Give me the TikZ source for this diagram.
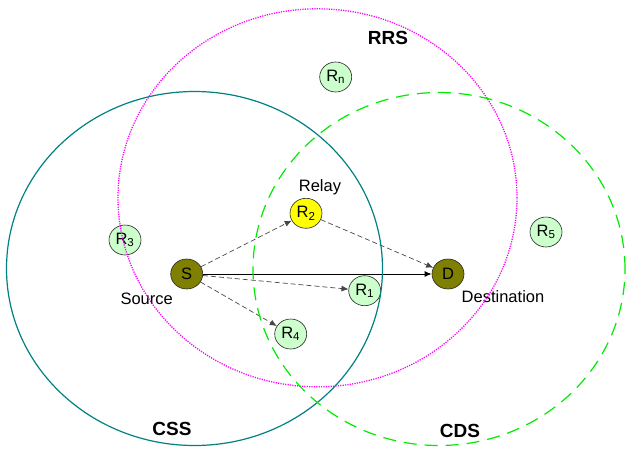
\documentclass[tikz,border=0pt]{standalone}
\usepackage{fontspec}
\setmainfont{Liberation Sans}
\usetikzlibrary{shapes.geometric,arrows.meta}
\definecolor{relayfill}{RGB}{204,255,204}
\definecolor{olivefill}{RGB}{128,128,0}
\definecolor{yellowfill}{RGB}{255,255,0}
\definecolor{teal}{RGB}{0,128,128}
\definecolor{magenta}{RGB}{255,0,255}
\definecolor{brightgreen}{RGB}{0,235,0}
\definecolor{dashgray}{RGB}{70,70,70}
\tikzset{
  basenode/.style={ellipse, draw=black!85, line width=0.6pt, minimum width=32pt, minimum height=30pt, inner sep=0pt, font=\fontsize{16.5}{18}\selectfont},
  relaynode/.style={basenode, fill=relayfill},
  endnode/.style={basenode, fill=olivefill},
  chosennode/.style={basenode, fill=yellowfill},
  lbl/.style={font=\fontsize{16.5}{18}\selectfont, inner sep=0pt},
  boldlbl/.style={font=\fontsize{19}{21}\selectfont\bfseries, inner sep=0pt},
  dasharrow/.style={draw=dashgray, line width=0.7pt, dash pattern=on 5pt off 3pt, -{Latex[length=7pt,width=6pt]}},
  solidarrow/.style={draw=black, line width=1pt, -{Latex[length=7pt,width=6pt]}},
  cssring/.style={draw=teal, line width=1.2pt},
  rrsring/.style={draw=magenta, line width=1.3pt, dash pattern=on 1.2pt off 1.2pt},
  cdsring/.style={draw=brightgreen, line width=1.2pt, dash pattern=on 13pt off 8pt},
}
\begin{document}
\begin{tikzpicture}[x=1pt,y=-1pt]
\useasboundingbox (0,0) rectangle (626,448);
% nodes
\node[endnode] (S) at (186.7,274) {S};
\node[endnode] (D) at (448,274) {D};
\node[chosennode] (R2) at (306,213.3) {R\textsubscript{2}};
\node[relaynode] (Rn) at (335.7,77) {R\textsubscript{n}};
\node[relaynode] (R3) at (125,240) {R\textsubscript{3}};
\node[relaynode] (R4) at (290.7,334) {R\textsubscript{4}};
\node[relaynode] (R1) at (364.7,290.7) {R\textsubscript{1}};
\node[relaynode] (R5) at (546,232) {R\textsubscript{5}};
% labels
\node[lbl] (src) at (146.7,299) {Source};
\node[lbl] (dst) at (503,297) {Destination};
\node[lbl] (rly) at (320,187.3) {Relay};
\node[boldlbl] (rrs) at (388,38) {RRS};
\node[boldlbl] (css) at (172,429) {CSS};
\node[boldlbl] (cds) at (460,431) {CDS};
% connectors
\draw[solidarrow] (S) -- (D);
\draw[dasharrow] (S) -- (R2);
\draw[dasharrow] (S) -- (R1);
\draw[dasharrow] (S) -- (R4);
\draw[dasharrow] (R2) -- (D);
% coverage regions
\draw[cssring] (194.5,268.5) ellipse [x radius=188pt, y radius=177pt];
\draw[rrsring] (317.5,197.8) ellipse [x radius=199.5pt, y radius=189pt];
\draw[cdsring] (439,269) ellipse [x radius=186pt, y radius=176.5pt];
\end{tikzpicture}
\end{document}
